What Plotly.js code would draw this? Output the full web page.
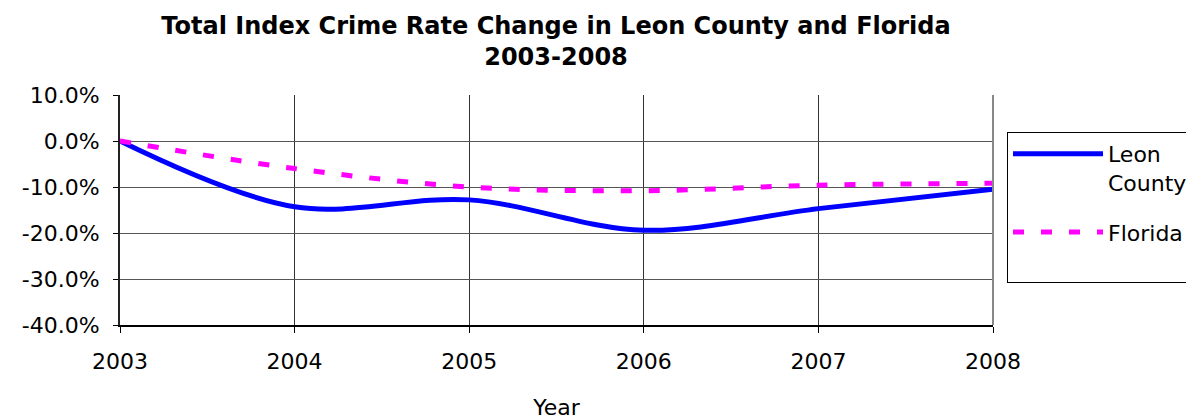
<!DOCTYPE html>
<html>
<head>
<meta charset="utf-8">
<script src="https://cdn.plot.ly/plotly-3.0.1.min.js"></script>
<style>
html,body{margin:0;padding:0;overflow:hidden;background:#fff;width:1186px;height:420px;}
#chart{width:1280px;height:420px;}
</style>
</head>
<body>
<div id="chart"></div>
<script>
const years = [2003, 2004, 2005, 2006, 2007, 2008];
const leonCounty = [0.0, -14.3, -12.8, -19.4, -14.7, -10.5];
const florida = [0.0, -6.0, -10.0, -10.8, -9.6, -9.2];
const yTicks = [10, 0, -10, -20, -30, -40];
const yTickLabels = ['10.0%', '0.0%', '-10.0%', '-20.0%', '-30.0%', '-40.0%'];

const FONT = 'DejaVu Sans, Verdana, sans-serif';
const W = 1280, H = 420;
const L = 120, R = W - 993, T = 95, B = 420 - 325;

const traces = [
  {
    x: years, y: leonCounty, name: 'Leon<br>County', type: 'scatter', mode: 'lines',
    legendgroup: 'a',
    line: {color: '#0000FF', width: 5, shape: 'spline', smoothing: 1}
  },
  {
    x: years, y: florida, name: 'Florida<br>&nbsp;', type: 'scatter', mode: 'lines',
    legendgroup: 'b',
    line: {color: '#FF00FF', width: 5, dash: '11px,17px', shape: 'spline', smoothing: 1}
  }
];

const layout = {
  width: W, height: H,
  margin: {l: L, r: R, t: T, b: B, autoexpand: false},
  paper_bgcolor: '#fff', plot_bgcolor: '#fff',
  font: {family: FONT, color: '#000', size: 22},
  title: {
    text: '<b>Total Index Crime Rate Change in Leon County and Florida<br>2003-2008</b>',
    font: {family: FONT, size: 24, color: '#000'},
    x: (556 / W), xanchor: 'center', y: 1 - 34 / H, yanchor: 'middle'
  },
  xaxis: {
    range: [2003, 2008], tickvals: years, ticktext: years.map(String),
    showgrid: true, gridcolor: '#333', gridwidth: 1,
    showline: true, linecolor: '#000', linewidth: 2,
    ticks: 'outside', ticklen: 6, tickcolor: '#000', tickwidth: 1,
    ticklabelstandoff: 10,
    tickfont: {family: FONT, size: 22, color: '#000'},
    zeroline: false,
    title: {text: 'Year', font: {family: FONT, size: 22, color: '#000'}, standoff: 29}
  },
  yaxis: {
    range: [-40, 10], tickvals: yTicks, ticktext: yTickLabels,
    showgrid: true, gridcolor: '#555', gridwidth: 1,
    showline: true, linecolor: '#222', linewidth: 2,
    ticks: 'outside', ticklen: 5, tickcolor: '#000', tickwidth: 1,
    ticklabelstandoff: 9,
    tickfont: {family: FONT, size: 22, color: '#000'},
    zeroline: false
  },
  shapes: [
    {type: 'line', xref: 'paper', yref: 'paper', x0: 1, x1: 1, y0: 0, y1: 1,
     line: {color: '#888', width: 2}, layer: 'above'}
  ],
  showlegend: true,
  legend: {
    x: (1007 - L) / (993 - L), xanchor: 'left',
    y: (325 - 132) / (325 - 95), yanchor: 'top',
    bordercolor: '#000', borderwidth: 1, bgcolor: '#fff',
    font: {family: FONT, size: 22, color: '#000'},
    itemwidth: 90, valign: 'top', tracegroupgap: 18,
    traceorder: 'grouped'
  }
};

Plotly.newPlot('chart', traces, layout, {displayModeBar: false, staticPlot: true});
</script>
</body>
</html>
